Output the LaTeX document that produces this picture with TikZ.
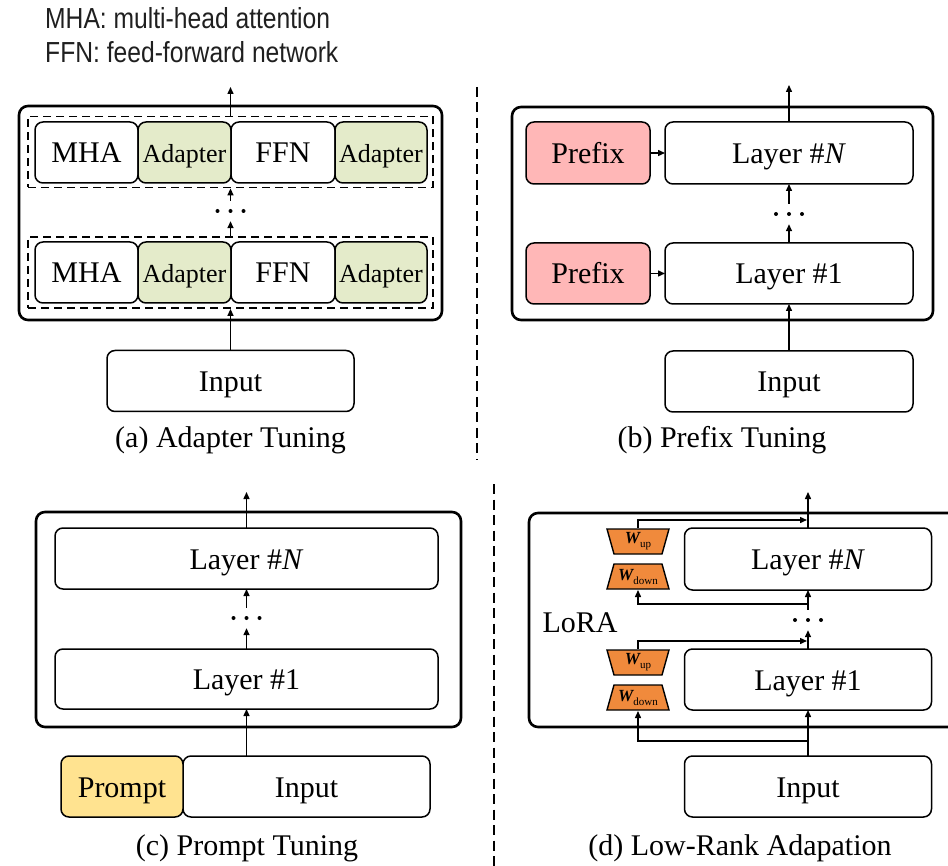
\documentclass[tikz,border=0pt]{standalone}
\usepackage{fontspec}
\setmainfont{Liberation Serif}
\newfontfamily\legendfont[FakeStretch=0.85]{Liberation Sans}
\usepackage{tikz}
\usetikzlibrary{positioning,calc,arrows.meta}

\definecolor{adaptergreen}{HTML}{E4EBCA}
\definecolor{prefixpink}{HTML}{FFB7B7}
\definecolor{promptyellow}{HTML}{FFE390}
\definecolor{loraorange}{HTML}{F08A3C}

\newcommand{\wmat}[1]{{\fontsize{17}{17}\selectfont\bfseries\itshape W}\raisebox{-4pt}{\fontsize{11}{11}\selectfont #1}}

\begin{document}
\begin{tikzpicture}[x=1pt, y=-1pt,
  blk/.style={draw, line width=1.5pt, rounded corners=8pt, minimum height=61pt,
    inner sep=0pt, outer sep=0pt, text height=21pt, text depth=0pt,
    font=\fontsize{30}{32}\selectfont},
  rowbox/.style={draw, dash pattern=on 8pt off 5pt, line width=1.8pt,
    minimum width=405pt, minimum height=71pt, inner sep=0pt},
  outer/.style={line width=2.6pt, rounded corners=9pt},
  flow/.style={-{Triangle[length=7pt,width=6pt]}, line width=1.4pt},
  gap/.style={minimum width=30pt, minimum height=20pt, inner sep=0pt},
  caption/.style={font=\fontsize{30}{32}\selectfont, inner sep=0pt},
  legend/.style={font=\legendfont\fontsize{29}{31}\selectfont, text=black!88, inner sep=0pt, anchor=west},
  sep/.style={dash pattern=on 10pt off 5.5pt, line width=2.4pt},
  wbox/.style={minimum width=64pt, minimum height=27pt, inner sep=0pt, outer sep=0pt},
  wup/.style={wbox, path picture={
    \filldraw[fill=loraorange, line width=1.4pt]
      ([xshift=1pt,yshift=-1pt]path picture bounding box.north west) --
      ([xshift=-1pt,yshift=-1pt]path picture bounding box.north east) --
      ([xshift=-8pt,yshift=1pt]path picture bounding box.south east) --
      ([xshift=8pt,yshift=1pt]path picture bounding box.south west) -- cycle;}},
  wdown/.style={wbox, path picture={
    \filldraw[fill=loraorange, line width=1.4pt]
      ([xshift=8pt,yshift=-1pt]path picture bounding box.north west) --
      ([xshift=-8pt,yshift=-1pt]path picture bounding box.north east) --
      ([xshift=-1pt,yshift=1pt]path picture bounding box.south east) --
      ([xshift=1pt,yshift=1pt]path picture bounding box.south west) -- cycle;}}]
  \clip (0,0) rectangle (948,866);

  % Legend
  \node[legend] (legmha) at (45,18) {MHA: multi-head attention};
  \node[legend] (legffn) at (45,52) {FFN: feed-forward network};

  % Separators
  \draw[sep] (477,87) -- (477,460);
  \draw[sep] (494,484) -- (494,866);

  % (a) Adapter tuning
  \draw[outer] (19,106) rectangle (442,320);
  \node[rowbox] (rowtop) at (230.5,152) {};
  \node[rowbox] (rowbot) at (230.5,272.5) {};
  \foreach \r/\yy in {top/152.5, bot/272.5} {
    \node[blk, minimum width=103pt] (mha\r) at (86.5,\yy) {MHA};
    \node[blk, minimum width=93pt, fill=adaptergreen, font=\fontsize{26}{28}\selectfont,
      right=0pt of mha\r] (adpa\r) {Adapter};
    \node[blk, minimum width=104pt, right=0pt of adpa\r] (ffn\r) {FFN};
    \node[blk, minimum width=92pt, fill=adaptergreen, font=\fontsize{26}{28}\selectfont,
      right=0pt of ffn\r] (adpb\r) {Adapter};
  }
  \node[gap] (dotsa) at (230.5,211) {};
  \node[blk, minimum width=247pt] (inputa) at (230.5,381) {Input};
  \coordinate (outa) at (230.5,87);
  \draw[flow] (inputa.north) -- (rowbot.south);
  \draw[flow] (rowbot.north) -- (dotsa.south);
  \draw[flow] (dotsa.north) -- (rowtop.south);
  \draw[flow] (rowtop.north) -- (outa);
  \node[caption] (capa) at (230.5,440) {(a) Adapter Tuning};

  % (b) Prefix tuning
  \draw[outer] (512,107) rectangle (933,320);
  \node[blk, minimum width=248pt, minimum height=62pt] (layernb) at (789,153) {Layer \#\textit{N}};
  \node[blk, minimum width=248pt] (layerab) at (789,273.5) {Layer \#1};
  \node[blk, minimum width=124pt, minimum height=62pt, fill=prefixpink, left=15pt of layernb] (prefixn) {Prefix};
  \node[blk, minimum width=124pt, fill=prefixpink, left=15pt of layerab] (prefixa) {Prefix};
  \node[gap] (dotsb) at (789,214) {};
  \node[blk, minimum width=248pt] (inputb) at (789,381.5) {Input};
  \coordinate (outb) at (789,85);
  \draw[flow] (prefixn) -- (layernb);
  \draw[flow] (prefixa) -- (layerab);
  \draw[flow] (inputb.north) -- (layerab.south);
  \draw[flow] (layerab.north) -- (dotsb.south);
  \draw[flow] (dotsb.north) -- (layernb.south);
  \draw[flow] (layernb.north) -- (outb);
  \node[caption] (capb) at (722,440) {(b) Prefix Tuning};

  % (c) Prompt tuning
  \draw[outer] (36,512) rectangle (461,727);
  \node[blk, minimum width=383pt] (layernc) at (246.5,558.5) {Layer \#\textit{N}};
  \node[blk, minimum width=383pt, minimum height=60pt] (layerac) at (246.5,679) {Layer \#1};
  \node[gap] (dotsc) at (246.5,618) {};
  \node[blk, minimum width=247pt] (inputc) at (306.5,786.5) {Input};
  \node[blk, minimum width=122pt, fill=promptyellow, left=0pt of inputc] (prompt) {Prompt};
  \coordinate (outc) at (246.5,492);
  \draw[flow] (inputc.north -| layerac) -- (layerac.south);
  \draw[flow] (layerac.north) -- (dotsc.south);
  \draw[flow] (dotsc.north) -- (layernc.south);
  \draw[flow] (layernc.north) -- (outc);
  \node[caption] (capc) at (247,848) {(c) Prompt Tuning};

  % (d) Low-rank adaptation
  \draw[outer] (529,513) rectangle (965,727);
  \node[blk, minimum width=247pt, minimum height=62pt] (layernd) at (808,559) {Layer \#\textit{N}};
  \node[blk, minimum width=247pt] (layerad) at (808,679.5) {Layer \#1};
  \node[gap] (dotsd) at (808,620) {};
  \node[blk, minimum width=247pt] (inputd) at (808,786.5) {Input};
  \node[wup] (wupn) at (638,541.5) {\wmat{up}};
  \node[wdown] (wdownn) at (638,576.5) {\wmat{down}};
  \node[wup] (wupa) at (638,662.5) {\wmat{up}};
  \node[wdown] (wdowna) at (638,697.5) {\wmat{down}};
  \node[caption] (lora) at (580,623) {LoRA};
  \coordinate (outd) at (808,492);
  \coordinate (upn) at (807,520);
  \coordinate (downn) at (808,604);
  \coordinate (upa) at (807,641);
  \coordinate (downa) at (808,741);
  \draw[flow] (inputd.north) -- (layerad.south);
  \draw[flow] (layerad.north) -- (dotsd.south);
  \draw[flow] (dotsd.north) -- (layernd.south);
  \draw[flow] (layernd.north) -- (outd);
  \draw[flow] (wupn.north) |- (upn);
  \draw[flow] (downn) -| (wdownn.south);
  \draw[flow] (wupa.north) |- (upa);
  \draw[flow] (downa) -| (wdowna.south);
  \node[caption] (capd) at (740,848) {(d) Low-Rank Adapation};

  % Dots between layers
  \foreach \g in {dotsa,dotsb,dotsc,dotsd}
    \foreach \dx in {-13,0,13}
      \fill ($(\g)+(\dx,0)$) circle (2);
\end{tikzpicture}
\end{document}
